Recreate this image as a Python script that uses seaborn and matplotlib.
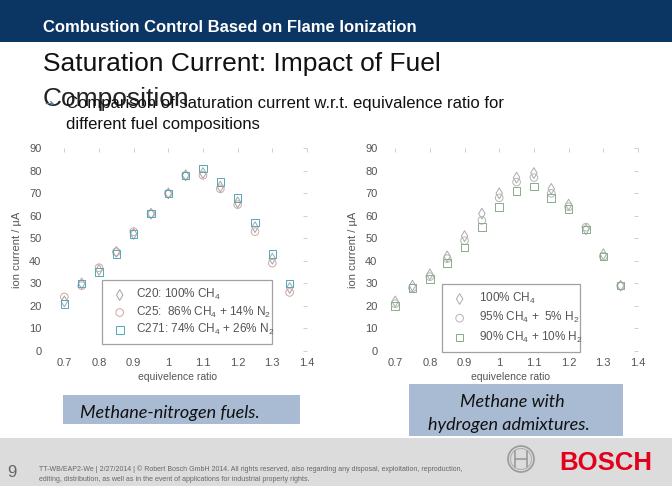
import numpy as np
import pandas as pd
import matplotlib
matplotlib.use("Agg")
import matplotlib.pyplot as plt
from matplotlib.patches import Rectangle, Circle
import seaborn as sns

# equivalence ratio grid used in both panels
phi = [0.7, 0.75, 0.8, 0.85, 0.9, 0.95, 1.0, 1.05, 1.1, 1.15, 1.2, 1.25, 1.3, 1.35]

# left panel: methane-nitrogen fuels (ion current / uA)
n2_labels = [r"C20: 100% CH$_4$", r"C25:  86% CH$_4$ + 14% N$_2$", r"C271: 74% CH$_4$ + 26% N$_2$"]
c20 = [22, 30, 36, 44, 52, 61, 70, 78, 79, 73, 66, 55, 41, 28]
c25 = [24, 29, 37, 44, 53, 61, 70, 78, 78, 72, 65, 53, 39, 26]
c271 = [21, 30, 35, 43, 52, 61, 70, 78, 81, 75, 68, 57, 43, 30]

# right panel: methane with hydrogen admixtures
h2_labels = [r"100% CH$_4$", r"95% CH$_4$ +  5% H$_2$", r"90% CH$_4$ + 10% H$_2$"]
h0 = [22, 29, 34, 42, 51, 61, 70, 77, 79, 72, 65, 54, 43, 29]
h5 = [21, 28, 33, 41, 49, 58, 68, 75, 77, 70, 64, 55, 42, 29]
h10 = [20, 28, 32, 39, 46, 55, 64, 71, 73, 68, 63, 54, 42, 29]

yticks = list(range(0, 91, 10))
xticks = [0.7, 0.8, 0.9, 1.0, 1.1, 1.2, 1.3, 1.4]
xtick_labels = ["0.7", "0.8", "0.9", "1", "1.1", "1.2", "1.3", "1.4"]

W, H = 672, 486

sns.set_theme(style="white")
plt.rcParams["font.family"] = ["Liberation Sans", "DejaVu Sans"]
plt.rcParams["mathtext.fontset"] = "custom"
plt.rcParams["mathtext.rm"] = "Liberation Sans"
plt.rcParams["mathtext.it"] = "Liberation Sans:italic"


def long_form(series, labels):
    return pd.DataFrame({
        "phi": phi * len(series),
        "current": sum(series, []),
        "fuel": np.repeat(labels, len(phi)),
    })


def panel(fig, rect, xlim, df, labels, markers, colors, leg_anchor, leg_spacing, leg_pad):
    ax = fig.add_axes(rect)
    for lab, m, c in zip(labels, markers, colors):
        sub = df[df["fuel"] == lab]
        sns.scatterplot(data=sub, x="phi", y="current", marker=m, s=30,
                        color=c, facecolors="none", edgecolor=c,
                        linewidth=0.7, label=lab, ax=ax)
    ax.set_xlim(*xlim)
    ax.set_ylim(0, 90)
    ax.set_xticks(xticks)
    ax.set_xticklabels(xtick_labels)
    ax.set_yticks(yticks)
    for s in ax.spines.values():
        s.set_visible(False)
    ax.tick_params(axis="both", direction="in", length=3, width=0.6, color="#c8c8c8",
                   labelsize=8, labelcolor="#555555", top=True, right=True, pad=4)
    ax.tick_params(axis="x", bottom=False, pad=5)
    ax.set_xlabel("equivelence ratio", fontsize=7.5, color="#555555", labelpad=3)
    ax.set_ylabel("ion current / \u00b5A", fontsize=8, color="#555555", labelpad=5)
    leg = ax.legend(loc="upper left", bbox_to_anchor=leg_anchor, borderaxespad=0,
                    fancybox=False, frameon=True, edgecolor="#8a8a8a", fontsize=8.5,
                    borderpad=0.6, handlelength=1.8, handletextpad=leg_pad,
                    labelspacing=leg_spacing, mode="expand")
    leg.get_frame().set_linewidth(0.9)
    for t in leg.get_texts():
        t.set_color("#555555")
    return ax


fig = plt.figure(figsize=(W / 100, H / 100), dpi=100)

# slide decoration layer in pixel coordinates
bg = fig.add_axes([0, 0, 1, 1])
bg.set_xlim(0, W)
bg.set_ylim(H, 0)
bg.axis("off")
bg.add_patch(Rectangle((0, 0), W, 42.5, color="#0b3563", lw=0))
bg.text(43, 31.5, "Combustion Control Based on Flame Ionization", color="white",
        fontsize=12, fontweight="bold", va="baseline")
bg.text(43, 71.5, "Saturation Current: Impact of Fuel", color="#111111",
        fontsize=19, va="baseline")
bg.text(43, 106, "Composition", color="#222222", fontsize=19, va="baseline")
bg.text(44, 108, "\u2794", color="#5a7898", fontsize=8, va="baseline",
        family=["DejaVu Sans"])
bg.text(66, 108, "Comparison of saturation current w.r.t. equivalence ratio for",
        color="#111111", fontsize=12, va="baseline")
bg.text(66, 129, "different fuel compositions", color="#111111", fontsize=12,
        va="baseline")

# caption boxes
bg.add_patch(Rectangle((63, 395), 237, 29, color="#a8bbd3", lw=0))
bg.text(80, 418, "Methane-nitrogen fuels.", color="#111111", fontsize=13,
        style="italic", va="baseline", family=["Lato", "DejaVu Sans"])
bg.add_patch(Rectangle((409, 384), 214, 52, color="#a8bbd3", lw=0))
bg.text(512, 407, "Methane with", color="#111111", fontsize=13, style="italic",
        ha="center", va="baseline", family=["Lato", "DejaVu Sans"])
bg.text(509, 430, "hydrogen admixtures.", color="#111111", fontsize=13,
        style="italic", ha="center", va="baseline", family=["Lato", "DejaVu Sans"])

# footer
bg.add_patch(Rectangle((0, 438), W, H - 438, color="#dcdcdc", lw=0))
bg.text(7, 477, "9", color="#666666", fontsize=12, va="baseline")
bg.text(39, 471, "TT-WB/EAP2-We | 2/27/2014 | \u00a9 Robert Bosch GmbH 2014. All rights reserved, "
        "also regarding any disposal, exploitation, reproduction,",
        color="#666666", fontsize=5.0, va="baseline")
bg.text(39, 480.5, "editing, distribution, as well as in the event of applications "
        "for industrial property rights.", color="#666666", fontsize=5.0, va="baseline")
bg.text(559, 470, "BOSCH", color="#e2001a", fontsize=18.5, fontweight="bold",
        va="baseline")
bg.add_patch(Circle((521, 459), 13, fill=False, ec="#9a9a9a", lw=1.2))
bg.add_patch(Circle((521, 459), 10.5, fill=False, ec="#b0b0b0", lw=0.8))
bg.plot([515, 515], [451, 467], color="#9a9a9a", lw=1.2)
bg.plot([527, 527], [451, 467], color="#9a9a9a", lw=1.2)
bg.plot([515, 527], [459, 459], color="#9a9a9a", lw=1.2)

# chart panels
y0 = 1 - 351 / H
hh = 202.7 / H
panel(fig, [47 / W, y0, 260 / W, hh], (0.65, 1.4),
      long_form([c20, c25, c271], n2_labels), n2_labels,
      ["d", "o", "s"], ["#a4a4a4", "#d3a4a4", "#4faab8"],
      (0.2115, 0.35, 0.654, 0.0), 0.2, 0.45)
panel(fig, [383 / W, y0, 255 / W, hh], (0.665, 1.4),
      long_form([h0, h5, h10], h2_labels), h2_labels,
      ["d", "o", "s"], ["#aaaaaa", "#b4b4b4", "#8aac8a"],
      (0.231, 0.3305, 0.541, 0.0), 0.35, 0.7)

fig.savefig("out.png", dpi=100)
